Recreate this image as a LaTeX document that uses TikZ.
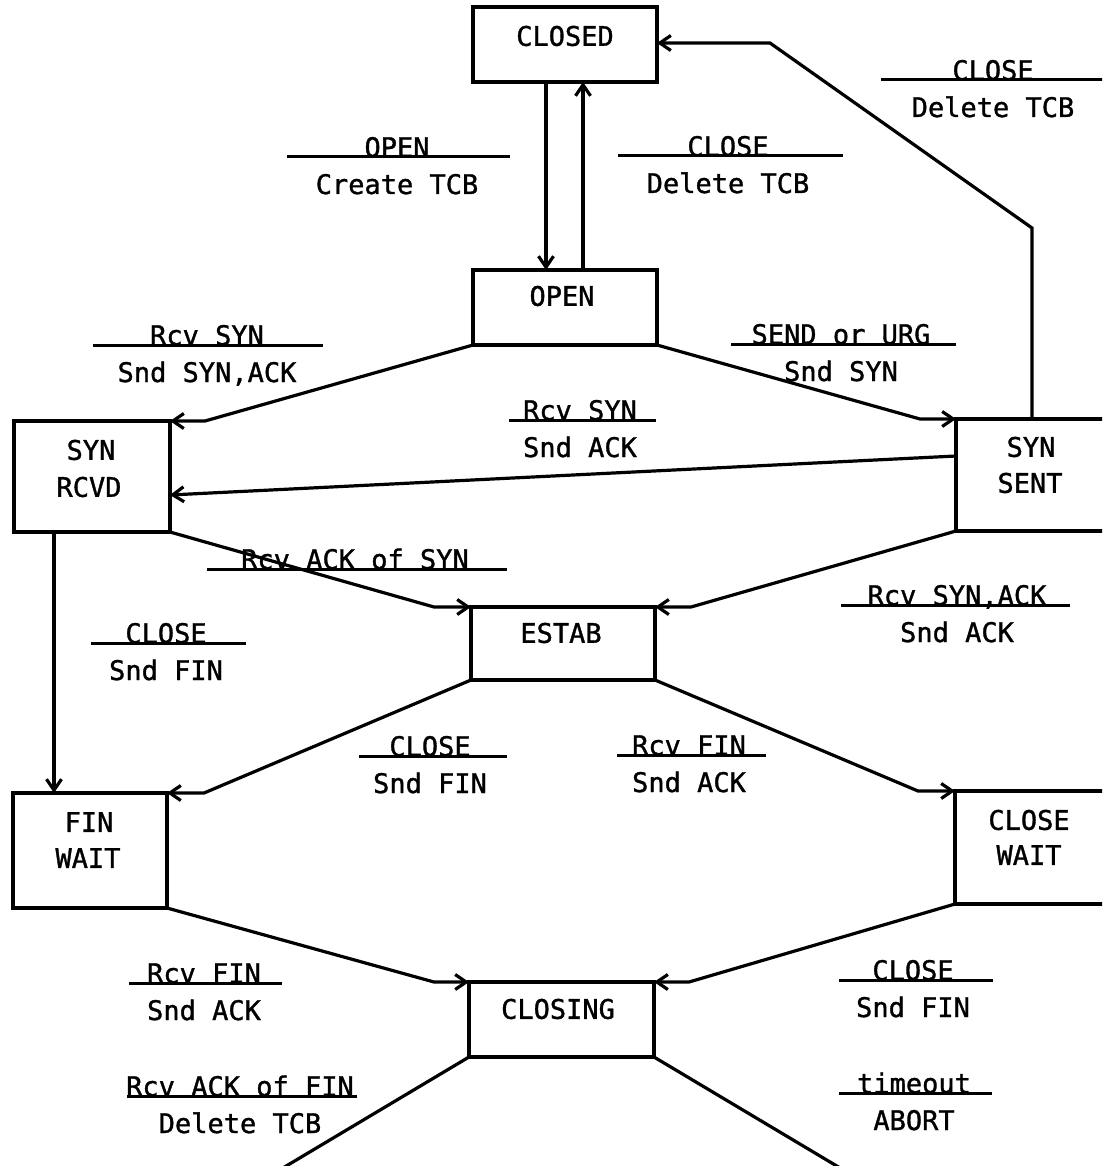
\documentclass[tikz,border=0pt]{standalone}
\usepackage{fontspec}
\setmonofont{DejaVu Sans Mono}[FakeBold=1.2]
\usetikzlibrary{arrows.meta}
\newcommand\tlab[7]{%
  \coordinate (#1L) at (#2,#4);
  \coordinate (#1R) at (#3,#4);
  \draw[uline] (#1L) -- (#1R);
  \node[anchor=base] (#1T) at (#5,#4) {#6};
  \node[anchor=base] (#1B) at (#5,#4+37) {#7};}
\begin{document}
\begin{tikzpicture}[x=1pt,y=-1pt,
  every node/.style={font=\ttfamily\fontsize{27}{37}\selectfont, inner sep=0pt},
  box/.style={draw, line width=3.2pt, inner sep=0pt, outer sep=0pt},
  plain/.style={line width=3.2pt},
  uline/.style={line width=3pt},
  conn/.style={line width=3.2pt, -{Straight Barb[length=11pt,width=15pt]}}]
\useasboundingbox (0,0) rectangle (1102,1166);
\clip (0,0) rectangle (1102,1166);
\fill[white] (0,0) rectangle (1102,1166);

% states
\node[box, minimum width=184pt, minimum height=75pt] (closed) at (565,44.5) {};
\node (closedT) at (565,36) {CLOSED};
\node[box, minimum width=184pt, minimum height=75pt] (open) at (565,307.5) {};
\node (openT) at (562,296) {OPEN};
\node[box, minimum width=156pt, minimum height=111pt] (synrcvd) at (92,476.5) {};
\node (synrcvdA) at (91,450) {SYN};
\node (synrcvdB) at (89,487) {RCVD};
\node[box, minimum width=200pt, minimum height=112pt] (synsent) at (1056,475) {};
\node (synsentA) at (1031,447) {SYN};
\node (synsentB) at (1030,483) {SENT};
\node[box, minimum width=184pt, minimum height=73pt] (estab) at (563,643.5) {};
\node (estabT) at (561,633) {ESTAB};
\node[box, minimum width=154pt, minimum height=115pt] (finwait) at (90,850.5) {};
\node (finwaitA) at (89,822) {FIN};
\node (finwaitB) at (88,858) {WAIT};
\node[box, minimum width=200pt, minimum height=113pt] (closewait) at (1055,847.5) {};
\node (closewaitA) at (1029,820) {CLOSE};
\node (closewaitB) at (1029,855) {WAIT};
\node[box, minimum width=185pt, minimum height=75pt] (closing) at (561.5,1019.5) {};
\node (closingT) at (558,1009) {CLOSING};

% connectors
\draw[conn] ([xshift=-19pt]closed.south) -- ([xshift=-19pt]open.north);
\draw[conn] ([xshift=18pt]open.north) -- ([xshift=18pt]closed.south);
\coordinate (k1) at (1032,228);
\coordinate (k2) at (770,43);
\draw[conn] ([xshift=76pt]synsent.north west) -- (k1) -- (k2) -- (closed.east |- k2);
\coordinate (b1) at (205,421);
\draw[conn] (open.south west) -- (b1) -- (synrcvd.north east);
\coordinate (b2) at (920,419);
\draw[conn] (open.south east) -- (b2) -- (synsent.north west);
\draw[conn] ([yshift=19pt]synsent.west) -- ([yshift=-18.5pt]synrcvd.east);
\coordinate (b3) at (434,607);
\draw[conn] (synrcvd.south east) -- (b3) -- (estab.north west);
\coordinate (b4) at (691,607);
\draw[conn] (synsent.south west) -- (b4) -- (estab.north east);
\draw[conn] ([xshift=-38pt]synrcvd.south) -- ([xshift=-36pt]finwait.north);
\coordinate (b5) at (204,793);
\draw[conn] (estab.south west) -- (b5) -- (finwait.north east);
\coordinate (b6) at (918,791);
\draw[conn] (estab.south east) -- (b6) -- (closewait.north west);
\coordinate (b7) at (434,982);
\draw[conn] (finwait.south east) -- (b7) -- (closing.north west);
\coordinate (b8) at (689,982);
\draw[conn] (closewait.south west) -- (b8) -- (closing.north east);
\coordinate (e1) at (251,1187);
\draw[plain] (closing.south west) -- (e1);
\coordinate (e2) at (872,1187);
\draw[plain] (closing.south east) -- (e2);

% transition labels
\tlab{l1}{287}{510}{157}{397}{OPEN}{Create TCB}
\tlab{l2}{618}{843}{156}{728}{CLOSE}{Delete TCB}
\tlab{l3}{881}{1110}{80}{993}{CLOSE}{Delete TCB}
\tlab{l4}{93}{323}{345}{207}{Rcv SYN}{Snd SYN,ACK}
\tlab{l5}{731}{956}{344}{841}{SEND or URG}{Snd SYN}
\tlab{l6}{509}{656}{420}{580}{Rcv SYN}{Snd ACK}
\coordinate (l7L) at (207,569);
\coordinate (l7R) at (507,569);
\draw[uline] (l7L) -- (l7R);
\node[anchor=base] (l7T) at (355,569) {Rcv ACK of SYN};
\tlab{l8}{841}{1070}{605}{957}{Rcv SYN,ACK}{Snd ACK}
\tlab{l9}{91}{246}{643}{166}{CLOSE}{Snd FIN}
\tlab{l10}{359}{507}{756}{430}{CLOSE}{Snd FIN}
\tlab{l11}{617}{766}{755}{689}{Rcv FIN}{Snd ACK}
\tlab{l12}{129}{282}{983}{204}{Rcv FIN}{Snd ACK}
\tlab{l13}{839}{993}{980}{913}{CLOSE}{Snd FIN}
\tlab{l14}{127}{357}{1096}{240}{Rcv ACK of FIN}{Delete TCB}
\tlab{l15}{839}{992}{1093}{914}{timeout}{ABORT}
\end{tikzpicture}
\end{document}
